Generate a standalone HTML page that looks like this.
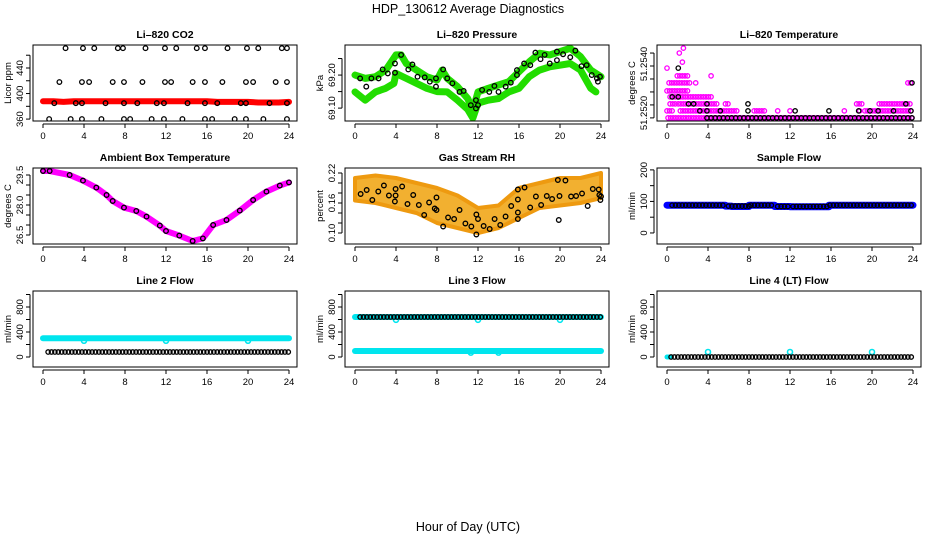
<!DOCTYPE html>
<html><head><meta charset="utf-8"><style>
body{margin:0;background:#fff;}
svg text{font-family:"Liberation Sans",Arial,sans-serif;}
</style></head><body>
<svg id="c" width="936" height="540" xmlns="http://www.w3.org/2000/svg">
<text x="468" y="13" font-size="12.5" text-anchor="middle">HDP_130612  Average Diagnostics</text>
<text x="468" y="531" font-size="12.5" text-anchor="middle">Hour of Day (UTC)</text>
</svg>
<script>
// ---------- data ----------
const xTicks = [0,4,8,12,16,20,24];
const co2RedHours = [0,1,2,3,4,5,6,7,8,9,10,11,12,13,14,15,16,17,18,19,20,21,22,23,24];
const co2RedVals = [388,388,387,388,388,388,388,388,388,388,388,388,388,388,388,388,388,387,387,387,387,386,386,386,387];
const co2BlackHours = [2.2,3.9,5,7.3,7.8,10,11.9,13,15,15.8,18,19.9,21,23.3,23.8, 1.6,3.8,4.5,6.8,7.9,9.7,11.9,12.5,14.6,15.8,17.5,19.8,20.5,22.7,23.8, 1.1,3.2,3.8,6.1,7.9,9.2,11.1,11.8,14.1,15.8,17,19.3,19.8,22.1,23.8, 0.6,2.7,3.8,5.7,7.9,8.5,10.6,11.8,13.6,15.8,16.5,18.7,19.8,21.5,23.8];
const co2BlackVals = [471,471,471,471,471,471,471,471,471,471,471,471,471,471,471, 418,418,418,418,418,418,418,418,418,418,418,418,418,418,418, 385,385,385,385,385,385,385,385,385,385,385,385,385,385,385, 360,360,360,360,360,360,360,360,360,360,360,360,360,360,360];
const presUpperHours = [0,1,2,3,4,4.5,5,6,7,8,8.5,9,10,11,11.5,12,13,14,15,16,17,18,19,20,21,22,23,24];
const presUpperVals = [69.200,69.190,69.195,69.215,69.261,69.261,69.235,69.215,69.195,69.185,69.215,69.190,69.165,69.129,69.094,69.149,69.160,69.170,69.180,69.210,69.240,69.266,69.261,69.271,69.281,69.256,69.215,69.195];
const presLowerHours = [0,1,2,3,3.8,4,5,6,7,8,9,10,11,11.5,12,13,14,15,16,17,18,19,20,21,22,23,23.5];
const presLowerVals = [69.149,69.124,69.149,69.160,69.175,69.205,69.190,69.175,69.160,69.150,69.149,69.124,69.096,69.070,69.115,69.124,69.129,69.149,69.160,69.195,69.215,69.225,69.230,69.235,69.215,69.160,69.149];
const presBlackHours = [0.5,1.1,1.6,2.3,2.7,3.2,3.9,3.9,4.5,5.2,5.6,6.1,6.8,7.3,7.9,7.9,8.6,9,9.5,10.2,10.6,11.3,11.8,11.8,12,12.4,13.1,13.6,14,14.7,15.2,15.8,15.8,16.5,17.1,17.6,18.1,18.5,19,19.7,19.7,20.3,21,21.5,22.1,22.6,23.1,23.6,23.7,23.9];
const presBlackVals = [69.190,69.165,69.190,69.190,69.217,69.205,69.235,69.207,69.261,69.217,69.232,69.195,69.193,69.180,69.190,69.165,69.217,69.190,69.175,69.149,69.152,69.109,69.124,69.099,69.109,69.155,69.149,69.167,69.149,69.165,69.177,69.200,69.215,69.235,69.230,69.268,69.248,69.261,69.235,69.271,69.245,69.263,69.254,69.274,69.227,69.230,69.200,69.190,69.180,69.195];
const tempLevels = [51.25150,51.25177,51.25204,51.25231,51.25254,51.25285,51.25312,51.25342,51.25365,51.25400,51.25419];
// magenta runs: [startHour, endHour, levelIndex]
const tempMagentaRuns = [[0.1,24,0],[0,0.5,1],[1.3,7,1],[8.5,9.7,1],[10.8,10.8,1],[12,12,1],[17.3,17.3,1],[18.8,18.8,1],[19.3,24,1],[0.3,1,2],[1.1,5,2],[5.7,6,2],[18.5,19,2],[20.7,23.8,2],[0.3,4.3,3],[0,2,4],[0.2,2.2,5],[2.8,2.8,5],[23.5,23.8,5],[1,2.2,6],[4.3,4.3,6],[0,0,7],[1.5,1.5,8],[1.2,1.2,9],[1.6,1.6,10]];
const tempBlackRuns = [[3.9,24,0],[3.2,3.2,1],[3.9,3.9,1],[5.2,5.2,1],[7.9,7.9,1],[12.5,12.5,1],[15.8,15.8,1],[18.7,18.7,1],[19.8,19.8,1],[20.6,20.6,1],[22.1,22.1,1],[23.8,23.8,1],[2.1,2.1,2],[2.6,2.6,2],[3.9,3.9,2],[7.9,7.9,2],[23.3,23.3,2],[0.5,0.5,3],[1.1,1.1,3],[1.1,1.1,7],[23.9,23.9,5]];
const ambHours = [0,0.65,2.6,3.9,5.2,6.2,6.8,7.9,9.1,10.1,11.4,12,13.3,14.6,15.6,16.6,17.9,19.2,20.5,21.8,23.1,24];
const ambVals = [29.7,29.7,29.5,29.22,28.87,28.5,28.2,27.87,27.7,27.42,26.97,26.7,26.47,26.2,26.33,27.0,27.25,27.72,28.25,28.67,28.97,29.13];
const rhBandHours = [0,2,4,6,8,10,12,14,16,18,20,22,24];
const rhBandUpper = [0.21,0.215,0.21,0.20,0.19,0.175,0.15,0.155,0.19,0.20,0.21,0.21,0.22];
const rhBandLower = [0.165,0.16,0.15,0.14,0.12,0.11,0.10,0.11,0.13,0.15,0.155,0.16,0.17];
const rhBlackHours = [0.55,1.14,1.69,2.27,2.82,3.31,3.96,3.96,3.89,4.6,5.12,5.68,6.23,6.75,7.23,7.78,7.95,7.95,8.6,9.08,9.67,10.2,10.77,11.35,11.84,11.84,12.0,12.55,13.14,13.62,14.17,14.69,15.24,15.89,15.89,15.89,15.89,16.54,17.09,17.65,18.16,18.71,19.23,19.79,19.88,19.95,20.53,21.08,21.57,22.15,22.7,23.2,23.78,23.84,23.94,24];
const rhBlackVals = [0.178,0.186,0.166,0.183,0.195,0.175,0.188,0.175,0.163,0.193,0.158,0.176,0.156,0.136,0.161,0.149,0.171,0.146,0.113,0.131,0.128,0.146,0.119,0.113,0.097,0.137,0.128,0.114,0.108,0.128,0.116,0.133,0.154,0.128,0.167,0.141,0.187,0.191,0.151,0.173,0.156,0.174,0.168,0.206,0.126,0.174,0.205,0.173,0.174,0.179,0.154,0.188,0.187,0.176,0.166,0.173];
// flow runs: [startHour, endHour, value]
const sampleBlueRuns = [[0,5.7,88],[5.7,6.3,85],[6.3,8,84],[8,10.5,88],[10.5,12,84],[12,15.8,83],[15.8,24,88]];
const sampleBlackRuns = [[0.5,5.7,88],[6,8,85],[8.2,10.5,88],[10.8,12,84],[12.3,15.6,84],[15.9,24,88]];
const line2CyanRuns = [[0,24,300]];
const line2CyanDips = [[4,260],[12,260],[20,260]];
const line2BlackRuns = [[0.5,24,80]];
const line3CyanRuns = [[0,24,640],[0,24,96]];
const line3CyanDips = [[4,595],[12,595],[20,595],[11.3,70],[14,70]];
const line3BlackRuns = [[0.5,24,640]];
const line4CyanRuns = [[0,0.3,0]];
const line4CyanDips = [[4,80],[12,80],[20,80]];
const line4BlackRuns = [[0.4,24,0]];

// ---------- drawing ----------
const svg = document.getElementById('c');
const NS = 'http://www.w3.org/2000/svg';
function mk(tag, attrs, parent){ const e=document.createElementNS(NS,tag); for(const k in attrs) e.setAttribute(k,attrs[k]); (parent||svg).appendChild(e); return e; }
const lefts=[33,345,657], tops=[45,168,291], W=264, H=76;

function panel(col,row,title,ylab,ymin,ymax,yticks,ylabels,name){
  const L=lefts[col], T=tops[row];
  const g=mk('g',{});
  
  
  const x=h=>L+10+h*246/24;
  const y=v=>T+H-(v-ymin)/(ymax-ymin)*H;
  const t=mk('text',{x:L+W/2,y:T-7,'font-size':10.5,'font-weight':'bold','text-anchor':'middle'},g);
  t.textContent=title;
  
  
  const yl=mk('text',{transform:`translate(${L-22},${T+H/2}) rotate(-90)`,'font-size':9.5,'text-anchor':'middle'},g);
  yl.textContent=ylab;
  
  
  const xa=mk('g',{},g);
  
  
  mk('line',{x1:x(0),x2:x(24),y1:T+H+3,y2:T+H+3,stroke:'#000'},xa);
  xTicks.forEach(v=>{ mk('line',{x1:x(v),x2:x(v),y1:T+H+3,y2:T+H+7,stroke:'#000'},xa);
    const tl=mk('text',{x:x(v),y:T+H+18,'font-size':9.5,'text-anchor':'middle'},xa); tl.textContent=v; });
  const ya=mk('g',{},g);
  
  
  mk('line',{x1:L-3,x2:L-3,y1:y(yticks[0]),y2:y(yticks[yticks.length-1]),stroke:'#000'},ya);
  yticks.forEach(v=>mk('line',{x1:L-7,x2:L-3,y1:y(v),y2:y(v),stroke:'#000'},ya));
  ylabels.forEach(lb=>{ const tl=mk('text',{transform:`translate(${L-10},${lb[2]!==undefined?lb[2]:y(lb[0])}) rotate(-90)`,'font-size':9.5,'text-anchor':'middle'},ya); tl.textContent=lb[1]; });
  const plot=mk('g',{},g);
  
  
  mk('rect',{x:L,y:T,width:W,height:H,fill:'none',stroke:'#000'},g);
  const clip='clip'+col+row;
  const cp=mk('clipPath',{id:clip},g); mk('rect',{x:L,y:T,width:W,height:H},cp);
  plot.setAttribute('clip-path',`url(#${clip})`);
  return {x,y,plot};
}
function circles(p,hours,vals,color,name,r){
  hours.forEach((h,i)=>{ const c=mk('circle',{cx:p.x(h),cy:p.y(vals[i]),r:r||2.3,fill:'none',stroke:color,'stroke-width':1.3},p.plot);
    
     });
}
function band(p,hours,vals,color,w,name){
  const pl=mk('polyline',{points:hours.map((h,i)=>p.x(h)+','+p.y(vals[i])).join(' '),fill:'none',stroke:color,'stroke-width':w,'stroke-linejoin':'round','stroke-linecap':'round'},p.plot);
  
  
}
function runs(p,rs,color,name,step,r){
  rs.forEach(rn=>{ for(let h=rn[0]; h<=rn[1]+1e-6; h+=step){ const c=mk('circle',{cx:p.x(h),cy:p.y(rn[2]),r:r,fill:'none',stroke:color,'stroke-width':1.3},p.plot);
    
     } });
}
function runBars(p,rs,color,w,name){
  rs.forEach(rn=>{ const l=mk('line',{x1:p.x(rn[0]),x2:p.x(rn[1]),y1:p.y(rn[2]),y2:p.y(rn[2]),stroke:color,'stroke-width':w,'stroke-linecap':'round'},p.plot);
    
     });
}

// CO2
let p=panel(0,0,'Li–820 CO2','Licor ppm',357,476,[360,380,400,420,440,460],[[360,'360'],[400,'400'],[440,'440']],'co2');
band(p,co2RedHours,co2RedVals,'#ff0000',6,'co2-red-series');
circles(p,co2BlackHours,co2BlackVals,'#000','co2-black-point');

// Pressure
p=panel(1,0,'Li–820 Pressure','kPa',69.061,69.291,[69.10,69.15,69.20,69.25],[[69.10,'69.10'],[69.20,'69.20']],'pressure');
band(p,presUpperHours,presUpperVals,'#22dd00',7,'pressure-green-upper');
band(p,presLowerHours,presLowerVals,'#22dd00',7,'pressure-green-lower');
circles(p,presBlackHours,presBlackVals,'#000','pressure-black-point');

// Li-820 temperature
p=panel(2,0,'Li–820 Temperature','degrees C',51.25138,51.25431,[51.2515,51.2520,51.2525,51.2530,51.2535,51.2540],[[0,'51.2520',113],[0,'51.2540',64]],'li820-temp');
tempMagentaRuns.forEach(rn=>{ for(let h=rn[0]; h<=rn[1]+1e-6; h+=0.25){ const c=mk('circle',{cx:p.x(h),cy:p.y(tempLevels[rn[2]]),r:2.2,fill:'none',stroke:'#ff00ff','stroke-width':1.3},p.plot);
  
   } });
tempBlackRuns.forEach(rn=>{ for(let h=rn[0]; h<=rn[1]+1e-6; h+=0.4){ const c=mk('circle',{cx:p.x(h),cy:p.y(tempLevels[rn[2]]),r:2.2,fill:'none',stroke:'#000','stroke-width':1.3},p.plot);
  
   } });

// Ambient
p=panel(0,1,'Ambient Box Temperature','degrees C',26.05,29.85,[26.5,27,27.5,28,28.5,29,29.5],[[26.5,'26.5'],[28,'28.0'],[29.5,'29.5']],'ambient');
band(p,ambHours,ambVals,'#ff00ff',6,'ambient-magenta-series');
ambHours.forEach((h,i)=>{ const c=mk('circle',{cx:p.x(h),cy:p.y(ambVals[i]),r:2.3,fill:'none',stroke:'#000','stroke-width':1.3},p.plot);
  
   });

// RH
p=panel(1,1,'Gas Stream RH','percent',0.078,0.23,[0.10,0.12,0.14,0.16,0.18,0.20,0.22],[[0.10,'0.10'],[0.16,'0.16'],[0.22,'0.22']],'rh');
{ const pts=rhBandHours.map((h,i)=>p.x(h)+','+p.y(rhBandUpper[i])).concat(rhBandHours.slice().reverse().map((h,j)=>p.x(h)+','+p.y(rhBandLower[rhBandHours.length-1-j])));
  const pg=mk('polygon',{points:pts.join(' '),fill:'#f2b030',stroke:'#ee9a10','stroke-width':4,'stroke-linejoin':'round'},p.plot);
  
   }
circles(p,rhBlackHours,rhBlackVals,'#000','rh-black-point');

// Sample flow
p=panel(2,1,'Sample Flow','ml/min',-35,206,[0,50,100,150,200],[[0,'0'],[100,'100'],[200,'200']],'sample-flow');
runBars(p,sampleBlueRuns,'#0000ff',7,'sample-flow-blue-series');
runs(p,sampleBlackRuns,'#000','sample-flow-black-point',0.33,2.2);

// Line 2
const flowTicks=[0,200,400,600,800,1000], flowLabels=[[0,'0'],[400,'400'],[800,'800']];
p=panel(0,2,'Line 2 Flow','ml/min',-160,1056,flowTicks,flowLabels,'line2-flow');
runBars(p,line2CyanRuns,'#00e5ee',6,'line2-cyan-series');
line2CyanDips.forEach(d=>{ const c=mk('circle',{cx:p.x(d[0]),cy:p.y(d[1]),r:2.5,fill:'none',stroke:'#00e5ee','stroke-width':1.6},p.plot);   });
runs(p,line2BlackRuns,'#000','line2-black-point',0.33,2.2);

// Line 3
p=panel(1,2,'Line 3 Flow','ml/min',-160,1056,flowTicks,flowLabels,'line3-flow');
runBars(p,line3CyanRuns,'#00e5ee',6,'line3-cyan-series');
line3CyanDips.forEach(d=>{ const c=mk('circle',{cx:p.x(d[0]),cy:p.y(d[1]),r:2.5,fill:'none',stroke:'#00e5ee','stroke-width':1.6},p.plot);   });
runs(p,line3BlackRuns,'#000','line3-black-point',0.33,2.2);

// Line 4
p=panel(2,2,'Line 4 (LT) Flow','ml/min',-160,1056,flowTicks,flowLabels,'line4-flow');
runBars(p,line4CyanRuns,'#00e5ee',5,'line4-cyan-series');
line4CyanDips.forEach(d=>{ const c=mk('circle',{cx:p.x(d[0]),cy:p.y(d[1]),r:2.5,fill:'none',stroke:'#00e5ee','stroke-width':1.6},p.plot);   });
runs(p,line4BlackRuns,'#000','line4-black-point',0.33,2.2);
</script>
</body></html>
